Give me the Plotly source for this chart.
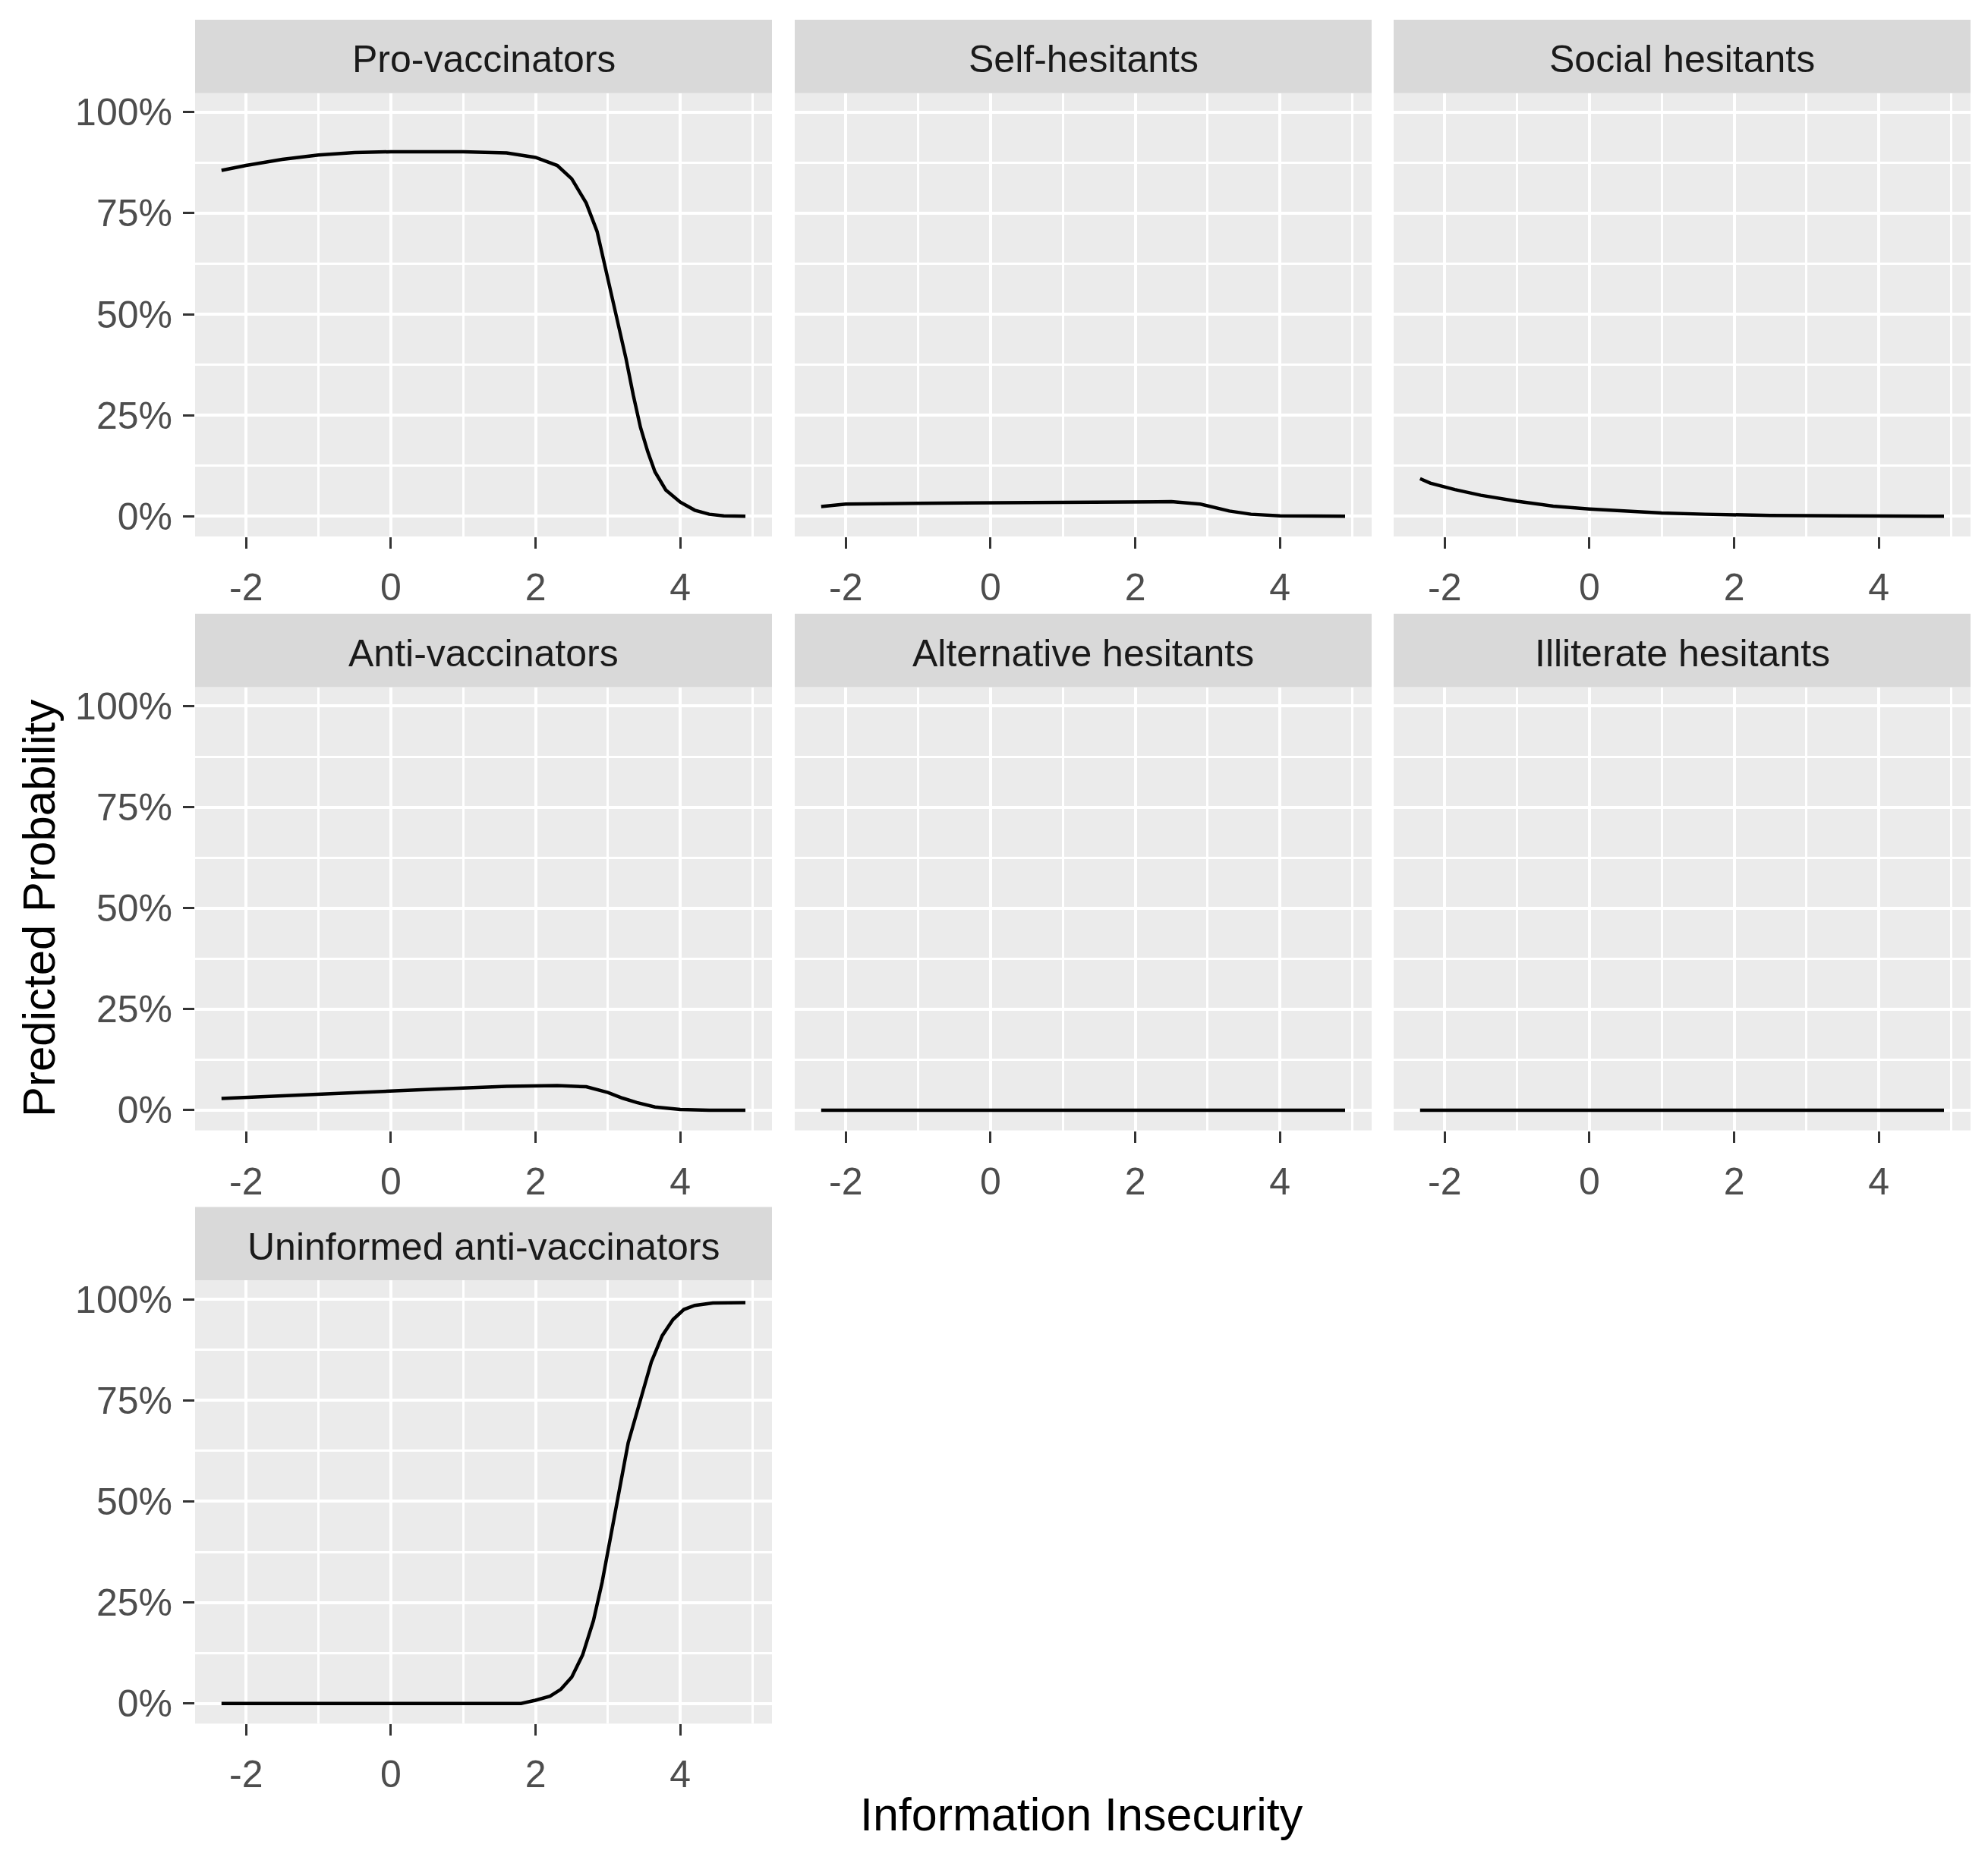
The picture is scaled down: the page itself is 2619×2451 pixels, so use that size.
import plotly.graph_objects as go

# facet titles, in reading order
panel_names = ["Pro-vaccinators", "Self-hesitants", "Social hesitants",
               "Anti-vaccinators", "Alternative hesitants", "Illiterate hesitants",
               "Uninformed anti-vaccinators"]

# predicted probability curves (x = Information Insecurity)
pro_x = [-2.34, -2.0, -1.5, -1.0, -0.5, 0.0, 1.0, 1.6, 2.0, 2.3, 2.5, 2.7, 2.85, 2.95, 3.05,
         3.15, 3.25, 3.35, 3.45, 3.55, 3.65, 3.8, 4.0, 4.2, 4.4, 4.6, 4.9]
pro_y = [0.856, 0.868, 0.883, 0.894, 0.900, 0.902, 0.902, 0.899, 0.888, 0.868, 0.835, 0.775, 0.705,
         0.625, 0.545, 0.47, 0.39, 0.30, 0.22, 0.16, 0.11, 0.065, 0.035, 0.015, 0.005, 0.001, 0.0]

self_x = [-2.34, -2.0, -1.0, 0.0, 1.2, 2.0, 2.5, 2.9, 3.1, 3.3, 3.6, 4.0, 4.9]
self_y = [0.024, 0.030, 0.032, 0.033, 0.035, 0.037, 0.036, 0.030, 0.022, 0.013, 0.005, 0.001, 0.0]

social_x = [-2.34, -2.2, -1.86, -1.5, -1.0, -0.5, 0.0, 0.5, 1.0, 1.6, 2.5, 3.5, 4.9]
social_y = [0.093, 0.082, 0.066, 0.052, 0.037, 0.025, 0.018, 0.012, 0.008, 0.005, 0.002, 0.001, 0.0]

anti_x = [-2.34, -1.5, -0.5, 0.6, 1.6, 2.3, 2.7, 3.0, 3.2, 3.4, 3.65, 4.0, 4.4, 4.9]
anti_y = [0.029, 0.036, 0.044, 0.052, 0.059, 0.061, 0.058, 0.044, 0.030, 0.019, 0.008, 0.002, 0.0, 0.0]

alt_x = [-2.34, 4.9]
alt_y = [0.0, 0.0]

illit_x = [-2.34, 4.9]
illit_y = [0.0, 0.0]

unin_x = [-2.34, 1.8, 2.0, 2.2, 2.35, 2.5, 2.65, 2.8, 2.92, 3.04, 3.16, 3.28, 3.45, 3.6, 3.75,
          3.9, 4.05, 4.2, 4.45, 4.9]
unin_y = [0.0, 0.0, 0.008, 0.018, 0.035, 0.065, 0.12, 0.205, 0.30, 0.41, 0.53, 0.645, 0.755, 0.845,
          0.91, 0.95, 0.975, 0.985, 0.991, 0.992]

series = [(pro_x, pro_y), (self_x, self_y), (social_x, social_y), (anti_x, anti_y),
          (alt_x, alt_y), (illit_x, illit_y), (unin_x, unin_y)]

x_ticks = [-2, 0, 2, 4]
x_tick_labels = ["-2", "0", "2", "4"]
y_ticks = [0, 0.25, 0.5, 0.75, 1.0]
y_tick_labels = ["0%", "25%", "50%", "75%", "100%"]

# page geometry in pixels of the target picture; the page body adds an 8px margin
PAGE_W, PAGE_H = 2619, 2451
OFF = 8
W, H = PAGE_W - 2 * OFF, PAGE_H - 2 * OFF


def px(X):
    return (X - OFF) / W


def py(Y):
    return 1 - (Y - OFF) / H


col_left = [257, 1047, 1836]
panel_w = 760
strip_top = [24, 808, 1591]
strip_h = 97
plot_h = 585

font = "Arial, Liberation Sans, sans-serif"
fig = go.Figure()

for i, name in enumerate(panel_names):
    r, c = divmod(i, 3)
    k = i + 1
    xs, ys = series[i]
    x0 = col_left[c]
    x1 = x0 + panel_w
    top = strip_top[r] + strip_h
    bottom = top + plot_h
    xname = "x" if k == 1 else f"x{k}"
    yname = "y" if k == 1 else f"y{k}"

    fig.add_trace(go.Scatter(x=xs, y=ys, mode="lines", line=dict(color="black", width=4.5),
                             xaxis=xname, yaxis=yname, showlegend=False, hoverinfo="skip"))

    fig.layout["xaxis" if k == 1 else f"xaxis{k}"] = dict(
        domain=[px(x0), px(x1)], anchor=yname, range=[-2.705, 5.267],
        tickvals=x_ticks, ticktext=x_tick_labels,
        ticks="outside", ticklen=15, tickwidth=3, tickcolor="#333333",
        ticklabelstandoff=8,
        tickfont=dict(size=50, color="#4D4D4D", family=font),
        showgrid=True, gridcolor="white", gridwidth=4, zeroline=False, showline=False,
        minor=dict(tickvals=[-1, 1, 3, 5], showgrid=True, gridcolor="white", gridwidth=2.5),
    )
    fig.layout["yaxis" if k == 1 else f"yaxis{k}"] = dict(
        domain=[py(bottom), py(top)], anchor=xname, range=[-0.0499, 1.0469],
        tickvals=y_ticks, ticktext=y_tick_labels,
        ticks="outside" if c == 0 else "", showticklabels=(c == 0),
        ticklen=15, tickwidth=3, tickcolor="#333333", ticklabelstandoff=4,
        tickfont=dict(size=50, color="#4D4D4D", family=font),
        showgrid=True, gridcolor="white", gridwidth=4, zeroline=False, showline=False,
        minor=dict(tickvals=[0.125, 0.375, 0.625, 0.875], showgrid=True, gridcolor="white", gridwidth=2.5),
    )

    # facet strip
    fig.add_shape(type="rect", xref="paper", yref="paper",
                  x0=px(x0), x1=px(x1), y0=py(top), y1=py(strip_top[r]),
                  fillcolor="#D9D9D9", line=dict(width=0), layer="below")
    fig.add_annotation(text=name, xref="paper", yref="paper",
                       x=px((x0 + x1) / 2), y=py(strip_top[r] + strip_h / 2 + 4),
                       xanchor="center", yanchor="middle", showarrow=False,
                       font=dict(size=50, color="#1A1A1A", family=font))

fig.add_annotation(text="Information Insecurity", xref="paper", yref="paper",
                   x=px(1425), y=py(2393), xanchor="center", yanchor="middle",
                   showarrow=False, font=dict(size=61, color="black", family=font))
fig.add_annotation(text="Predicted Probability", xref="paper", yref="paper",
                   x=px(51), y=py(1197), xanchor="center", yanchor="middle", textangle=-90,
                   showarrow=False, font=dict(size=60, color="black", family=font))

fig.update_layout(width=W, height=H, margin=dict(l=0, r=0, t=0, b=0),
                  plot_bgcolor="#EBEBEB", paper_bgcolor="white", font_family=font)

fig.write_html("out.html")
